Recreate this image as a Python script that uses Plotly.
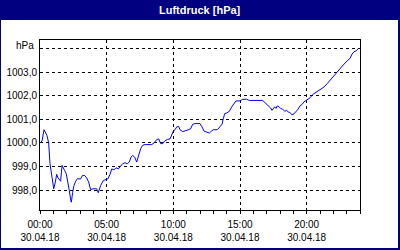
import plotly.graph_objects as go

# --- data (hours since 00:00 on 30.04.18, pressure in hPa) ---
hours = [0.0, 0.15, 0.3, 0.4, 0.52, 0.65, 0.75, 0.9, 1.03, 1.15, 1.25, 1.35, 1.45, 1.55,
         1.65, 1.75, 1.85, 1.97, 2.1, 2.2, 2.3, 2.35, 2.45, 2.55, 2.68, 2.8, 3.05, 3.18,
         3.35, 3.5, 3.65, 3.8, 3.97, 4.25, 4.37, 4.55, 4.75, 5.1, 5.25, 5.38, 5.55, 5.7,
         5.88, 6.0, 6.2, 6.38, 6.55, 6.7, 6.83, 6.95, 7.1, 7.25, 7.4, 7.55, 7.7, 7.88,
         8.38, 8.55, 8.75, 8.9, 9.05, 9.2, 9.35, 9.55, 9.75, 9.88, 10.0, 10.13, 10.25,
         10.4, 10.5, 10.7, 10.88, 11.1, 11.3, 11.45, 11.63, 12.0, 12.15, 12.3, 12.5, 12.7,
         12.85, 13.0, 13.3, 13.45, 13.65, 13.75, 13.85, 14.0, 14.2, 14.38, 14.55, 14.7,
         15.0, 15.2, 15.5, 15.7, 16.7, 16.88, 17.05, 17.2, 17.3, 17.4, 17.5, 17.6, 17.7,
         17.8, 17.93, 18.05, 18.2, 18.35, 18.5, 18.63, 18.75, 18.88, 19.05, 19.2, 19.35,
         19.5, 19.65, 19.8, 19.95, 20.1, 20.25, 20.45, 20.75, 21.0, 21.3, 21.55, 21.8,
         22.05, 22.3, 22.55, 22.8, 23.05, 23.25, 23.4, 23.55, 23.7, 23.88]
pressure = [1000.0, 1000.08, 1000.56, 1000.42, 1000.32, 1000.0, 999.12, 998.55, 998.06,
            998.34, 998.67, 998.52, 998.44, 998.38, 999.05, 998.9, 998.83, 998.69, 998.34,
            997.98, 997.59, 997.49, 997.91, 998.2, 998.38, 998.48, 998.48, 998.62, 998.62,
            998.52, 998.34, 998.02, 998.06, 998.06, 997.89, 998.2, 998.41, 998.48, 998.67,
            998.9, 998.86, 998.95, 998.9, 999.0, 999.12, 999.16, 999.12, 999.19, 999.4,
            999.47, 999.4, 999.19, 999.54, 999.76, 999.9, 999.93, 999.93, 1000.0, 1000.14,
            1000.17, 999.97, 999.97, 1000.08, 1000.15, 1000.17, 1000.32, 1000.5, 1000.56,
            1000.68, 1000.7, 1000.56, 1000.48, 1000.5, 1000.55, 1000.6, 1000.79, 1000.82,
            1000.82, 1000.68, 1000.5, 1000.46, 1000.42, 1000.5, 1000.56, 1000.56, 1000.68,
            1000.79, 1001.03, 1001.24, 1001.27, 1001.34, 1001.53, 1001.64, 1001.78, 1001.78,
            1001.85, 1001.85, 1001.8, 1001.8, 1001.71, 1001.63, 1001.57, 1001.48, 1001.38,
            1001.48, 1001.53, 1001.46, 1001.57, 1001.53, 1001.46, 1001.43, 1001.34, 1001.38,
            1001.31, 1001.29, 1001.2, 1001.23, 1001.31, 1001.43, 1001.57, 1001.63, 1001.74,
            1001.81, 1001.85, 1001.91, 1002.05, 1002.16, 1002.26, 1002.37, 1002.52, 1002.69,
            1002.83, 1003.0, 1003.15, 1003.34, 1003.48, 1003.58, 1003.76, 1003.86, 1003.9,
            1004.0]

x_tickvals = [0, 5, 10, 15, 20]
x_ticktext = ["00:00<br>30.04.18", "05:00<br>30.04.18", "10:00<br>30.04.18",
              "15:00<br>30.04.18", "20:00<br>30.04.18"]
y_tickvals = [998, 999, 1000, 1001, 1002, 1003, 1004]
y_ticktext = ["998,0", "999,0", "1000,0", "1001,0", "1002,0", "1003,0", ""]
title_text = "Luftdruck [hPa]"
unit_text = "hPa"

NAVY = "#000080"
FONT = "Liberation Sans"

fig = go.Figure()
fig.add_trace(go.Scatter(x=hours, y=pressure, mode="lines",
                         line=dict(color="#0000FF", width=1), hoverinfo="skip"))

# plot area: x 40..360, y 40..210 px
W, H = 400, 250
L, R, T, B = 40, 40, 40, 40
pw, ph = W - L - R, H - T - B


def px_x(p):
    return (p - L) / pw


def px_y(p):
    return (H - B - p) / ph


shapes = [
    # title bar
    dict(type="rect", xref="paper", yref="paper", x0=px_x(0), x1=px_x(400),
         y0=px_y(20), y1=px_y(0), fillcolor=NAVY, line=dict(width=0), layer="below"),
    # outer border strips
    dict(type="rect", xref="paper", yref="paper", x0=px_x(0), x1=px_x(1),
         y0=px_y(250), y1=px_y(0), fillcolor=NAVY, line=dict(width=0)),
    dict(type="rect", xref="paper", yref="paper", x0=px_x(398), x1=px_x(400),
         y0=px_y(250), y1=px_y(0), fillcolor=NAVY, line=dict(width=0)),
    dict(type="rect", xref="paper", yref="paper", x0=px_x(0), x1=px_x(400),
         y0=px_y(250), y1=px_y(248), fillcolor=NAVY, line=dict(width=0)),
]

fig.update_layout(
    width=W, height=H,
    margin=dict(l=L, r=R, t=T, b=B, pad=0),
    paper_bgcolor="white", plot_bgcolor="white",
    showlegend=False,
    font=dict(family=FONT, size=10, color="#000000"),
    shapes=shapes,
    annotations=[
        dict(text="<b>" + title_text + "</b>", xref="paper", yref="paper",
             x=px_x(200), y=px_y(10), xanchor="center", yanchor="middle",
             showarrow=False, font=dict(family=FONT, size=11, color="white")),
        dict(text=unit_text, xref="paper", yref="paper",
             x=px_x(36), y=px_y(45), xanchor="right", yanchor="middle",
             showarrow=False, font=dict(family=FONT, size=10, color="#000000")),
    ],
)

fig.update_xaxes(
    range=[0, 24], tickvals=x_tickvals, ticktext=x_ticktext,
    ticks="outside", ticklen=3, tickcolor="black", tickwidth=1,
    ticklabelstandoff=2,
    minor=dict(dtick=1, tick0=0, ticks="outside", ticklen=3, tickcolor="black",
               showgrid=False),
    showgrid=True, gridcolor="black", griddash="3px,3px", gridwidth=1,
    showline=True, linecolor="black", linewidth=1, mirror=True,
    zeroline=False, automargin=False, fixedrange=True,
)
fig.update_yaxes(
    range=[997.16, 1004.36], tickvals=y_tickvals, ticktext=y_ticktext,
    ticks="", showgrid=True, gridcolor="black", griddash="3px,3px", gridwidth=1,
    showline=True, linecolor="black", linewidth=1, mirror=True,
    zeroline=False, automargin=False, fixedrange=True,
)

fig.write_html("out.html", config={"displayModeBar": False})
